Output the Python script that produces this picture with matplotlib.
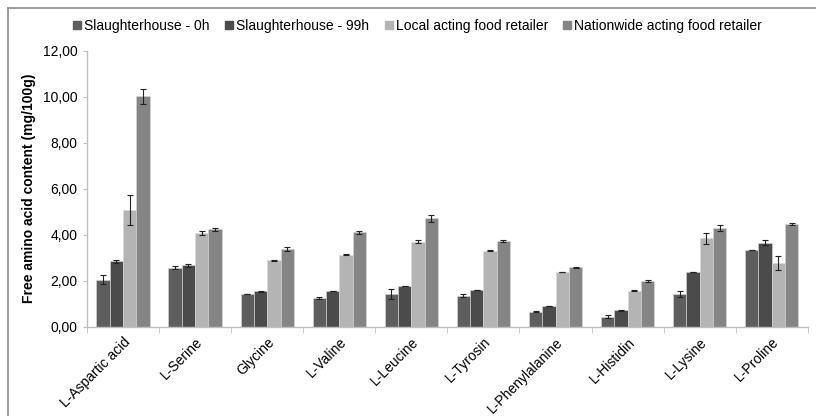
import matplotlib
matplotlib.use("Agg")
import matplotlib.pyplot as plt
import numpy as np
from matplotlib.lines import Line2D

plt.rcParams['font.family'] = ['Liberation Sans', 'DejaVu Sans']

categories = ["L-Aspartic acid", "L-Serine", "Glycine", "L-Valine", "L-Leucine",
              "L-Tyrosin", "L-Phenylalanine", "L-Histidin", "L-Lysine", "L-Proline"]
series_names = ["Slaughterhouse - 0h", "Slaughterhouse - 99h",
                "Local acting food retailer", "Nationwide acting food retailer"]
s0 = [2.05, 2.57, 1.41, 1.26, 1.42, 1.35, 0.65, 0.44, 1.42, 3.32]
s0_err = [0.20, 0.06, 0.01, 0.05, 0.20, 0.05, 0.02, 0.05, 0.15, 0.00]
s99 = [2.84, 2.67, 1.54, 1.55, 1.77, 1.58, 0.90, 0.71, 2.39, 3.65]
s99_err = [0.08, 0.06, 0.03, 0.00, 0.00, 0.00, 0.02, 0.02, 0.00, 0.10]
local = [5.07, 4.07, 2.89, 3.13, 3.70, 3.30, 2.38, 1.57, 3.84, 2.76]
local_err = [0.64, 0.10, 0.03, 0.02, 0.06, 0.02, 0.01, 0.02, 0.25, 0.30]
nation = [10.02, 4.23, 3.37, 4.10, 4.71, 3.71, 2.58, 2.00, 4.29, 4.48]
nation_err = [0.33, 0.05, 0.10, 0.05, 0.15, 0.04, 0.02, 0.05, 0.15, 0.05]
yticks = [0, 2, 4, 6, 8, 10, 12]
ytick_labels = ["0,00", "2,00", "4,00", "6,00", "8,00", "10,00", "12,00"]

colors = ["#5e5e5e", "#4b4b4b", "#b4b4b4", "#858585"]
values = [s0, s99, local, nation]
errors = [s0_err, s99_err, local_err, nation_err]

fig = plt.figure(figsize=(8.16, 4.16), dpi=100)
ax = fig.add_axes([0.1066, 0.2147, 0.8834, 0.6633])

x = np.arange(len(categories))
w = 0.185
offsets = [-1.5, -0.5, 0.5, 1.5]
for vals, errs, col, off, name in zip(values, errors, colors, offsets, series_names):
    ax.bar(x + off * w, vals, width=w, color=col, edgecolor="#d9d9d9", linewidth=0.4,
           label=name, zorder=2)
    ax.errorbar(x + off * w, vals, yerr=errs, fmt='none', ecolor='#222222',
                elinewidth=0.8, capsize=2.5, capthick=0.8, zorder=3)

ax.set_xlim(-0.5, len(categories) - 0.5)
ax.set_ylim(0, 12)
ax.set_yticks(yticks)
ax.set_yticklabels(ytick_labels, fontsize=10)
ax.set_xticks(x)
ax.set_xticklabels(categories, rotation=45, ha='right', rotation_mode='anchor', fontsize=10)
ax.set_xticks(np.arange(-0.5, len(categories)), minor=True)
ax.tick_params(axis='x', which='major', length=0, pad=6)
ax.tick_params(axis='x', which='minor', length=4, color='#bfbfbf', direction='out')
ax.tick_params(axis='y', length=3, color='#bfbfbf', direction='out', pad=4)
for s in ['top', 'right']:
    ax.spines[s].set_visible(False)
for s in ['left', 'bottom']:
    ax.spines[s].set_color('#bfbfbf')
    ax.spines[s].set_linewidth(1.0)

ax.set_ylabel("Free amino acid content (mg/100g)", fontsize=10, fontweight='bold', labelpad=5)

handles = [Line2D([0], [0], marker='s', linestyle='none', markersize=6,
                  markerfacecolor=c, markeredgecolor=c) for c in colors]
fig.legend(handles, series_names, loc='center', bbox_to_anchor=(0.511, 0.9375),
           ncol=4, frameon=False, fontsize=10, handletextpad=0.1, columnspacing=1.0,
           handlelength=0.8)

# figure frame (top and left edges)
fig.add_artist(Line2D([8 / 816, 8 / 816], [0, 1 - 8 / 416], transform=fig.transFigure,
                      color='#8c8c8c', linewidth=1.2))
fig.add_artist(Line2D([8 / 816, 1], [1 - 8 / 416, 1 - 8 / 416], transform=fig.transFigure,
                      color='#8c8c8c', linewidth=1.2))

fig.savefig("out.png", dpi=100)
